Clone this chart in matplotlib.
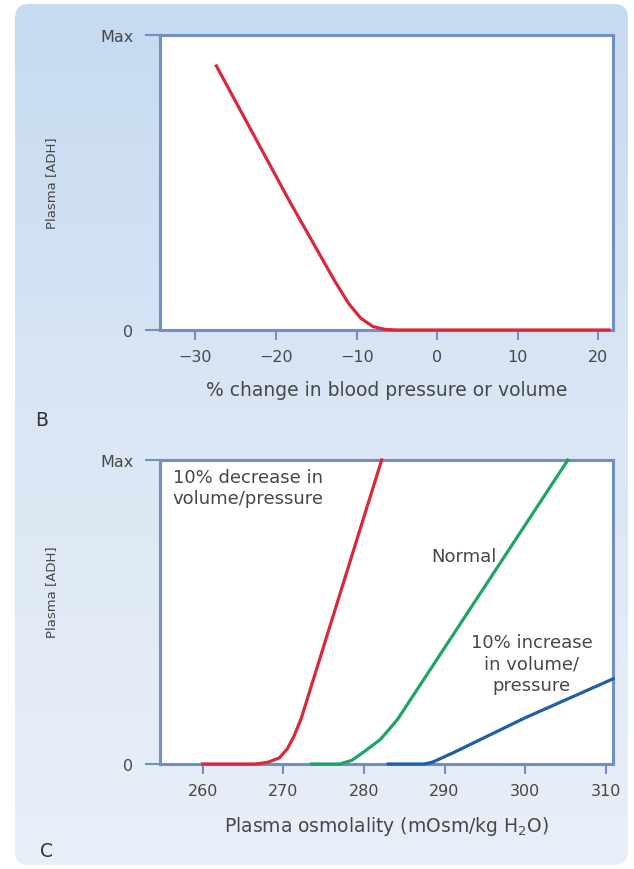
import numpy as np
import matplotlib.pyplot as plt
from matplotlib.patches import FancyBboxPatch
from matplotlib.colors import LinearSegmentedColormap

# === Data ===
# Panel B: ADH vs % change in blood pressure/volume
bp_change = [-27.5, -18.4, -12.7, -11.0, -9.5, -8.0, -6.5, -5.0, 21.5]
bp_adh = [0.90, 0.44, 0.165, 0.09, 0.04, 0.012, 0.002, 0.0, 0.0]

# Panel C: ADH vs plasma osmolality, three conditions
osm_decrease = [260, 266.5, 268, 269.5, 270.5, 271.3, 272.2, 282.2]
adh_decrease = [0.0, 0.0, 0.005, 0.02, 0.05, 0.09, 0.148, 1.0]

osm_normal = [273.5, 277, 278.5, 280, 282, 283, 284.2, 305.3]
adh_normal = [0.0, 0.0, 0.012, 0.04, 0.08, 0.11, 0.148, 1.0]

osm_increase = [283, 287.5, 288.5, 289.5, 291, 300, 310.9]
adh_increase = [0.0, 0.0, 0.006, 0.018, 0.036, 0.152, 0.28]

b_ticks = [-30, -20, -10, 0, 10, 20]
c_ticks = [260, 270, 280, 290, 300, 310]
y_ticks = [0, 1]
y_ticklabels = ["0", "Max"]

# === Style ===
plt.rcParams['font.family'] = ['DejaVu Sans']
text_col = "#474747"
spine_col = "#6f8fc6"
red = "#d8283c"
green = "#1ea463"
blue = "#1f5ea8"

W, H = 634, 870
fig = plt.figure(figsize=(W / 100, H / 100), dpi=100)
fig.patch.set_facecolor("white")

# light-blue rounded panel with vertical gradient
bg = fig.add_axes([0, 0, 1, 1], zorder=-5)
bg.set_xlim(0, W)
bg.set_ylim(H, 0)
bg.axis("off")
cmap = LinearSegmentedColormap.from_list("bg", ["#c6daf0", "#dbe7f5", "#e9eff8"])
grad = np.linspace(0, 1, 256).reshape(-1, 1)
im = bg.imshow(grad, cmap=cmap, extent=[15, 628, 866, 5], aspect="auto")
box = FancyBboxPatch((15, 5), 613, 861, boxstyle="round,pad=0,rounding_size=14",
                     facecolor="none", edgecolor="none", transform=bg.transData)
bg.add_patch(box)
im.set_clip_path(box)


def style_axes(ax, xticks, xlim):
    ax.set_facecolor("white")
    ax.set_xlim(*xlim)
    ax.set_ylim(0, 1)
    for s in ax.spines.values():
        s.set_color(spine_col)
        s.set_linewidth(2.2)
    ax.set_xticks(xticks)
    ax.set_yticks(y_ticks)
    ax.set_yticklabels(y_ticklabels)
    ax.tick_params(axis="x", direction="out", length=7.5, width=1.5, color=spine_col,
                   labelsize=11.5, labelcolor=text_col, pad=6)
    ax.tick_params(axis="y", direction="out", length=11, width=1.5, color=spine_col,
                   labelsize=11.5, labelcolor=text_col, pad=8)


# === Panel B ===
axB = fig.add_axes([160 / W, 1 - 331 / H, 453 / W, 295 / H])
style_axes(axB, b_ticks, (-34.4, 21.8))
axB.plot(bp_change, bp_adh, color=red, lw=2.3, clip_on=False, zorder=5,
         solid_capstyle="butt")
axB.set_xlabel("% change in blood pressure or volume", fontsize=13.5,
               color=text_col, labelpad=12)
axB.set_ylabel("Plasma [ADH]", fontsize=9.5, color=text_col)
axB.yaxis.set_label_coords(-0.225, 0.5)
fig.text(35 / W, 1 - 421 / H, "B", fontsize=13.5, color="#333333", va="center")

# === Panel C ===
axC = fig.add_axes([160 / W, 1 - 765 / H, 453 / W, 304 / H])
style_axes(axC, c_ticks, (254.7, 310.9))
axC.plot(osm_decrease, adh_decrease, color=red, lw=2.3, clip_on=False, zorder=5)
axC.plot(osm_normal, adh_normal, color=green, lw=2.3, clip_on=False, zorder=5)
axC.plot(osm_increase, adh_increase, color=blue, lw=2.3, clip_on=False, zorder=5)
axC.set_xlabel("Plasma osmolality (mOsm/kg H$_2$O)", fontsize=13.5,
               color=text_col, labelpad=12)
axC.set_ylabel("Plasma [ADH]", fontsize=9.5, color=text_col)
axC.yaxis.set_label_coords(-0.225, 0.57)
fig.text(40 / W, 1 - 852 / H, "C", fontsize=13.5, color="#333333", va="center")

axC.text(256.3, 0.975, "10% decrease in\nvolume/pressure", fontsize=13,
         color=text_col, va="top", ha="left", linespacing=1.25)
axC.text(296.5, 0.685, "Normal", fontsize=13, color=text_col, ha="right", va="center")
axC.text(300.8, 0.33, "10% increase\nin volume/\npressure", fontsize=13,
         color=text_col, ha="center", va="center", linespacing=1.25)

fig.savefig("out.png", dpi=100)
